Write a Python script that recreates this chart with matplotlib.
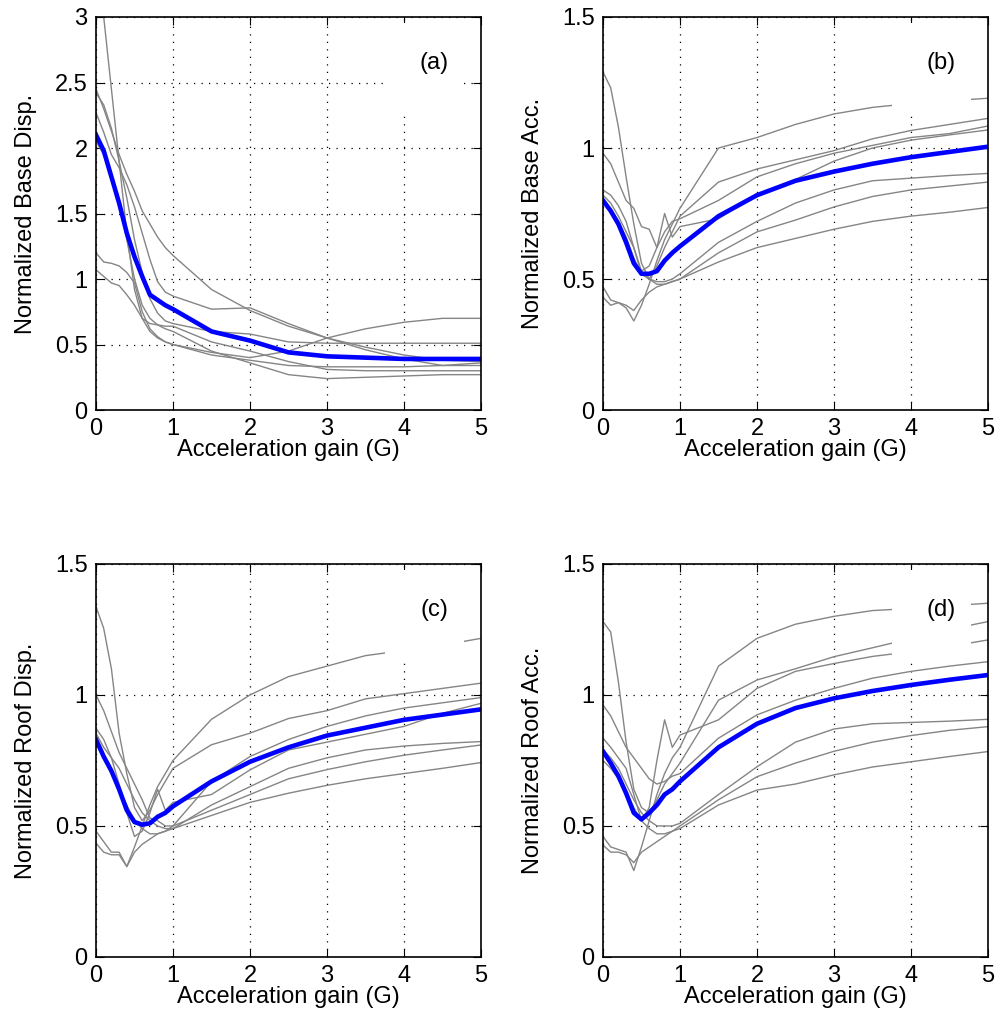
import numpy as np
import matplotlib
matplotlib.use('Agg')
import matplotlib.pyplot as plt
from matplotlib.patches import Rectangle
from matplotlib.ticker import FuncFormatter

plt.rcParams['font.family'] = ['Liberation Sans', 'DejaVu Sans']

# acceleration gain grid (G)
gain = [0, 0.1, 0.2, 0.3, 0.4, 0.5, 0.6, 0.7, 0.8, 0.9, 1.0,
        1.5, 2.0, 2.5, 3.0, 3.5, 4.0, 4.5, 5.0]

# (a) normalized base displacement
base_disp = [
    [3.3, 3.0, 2.45, 1.9, 1.35, 0.92, 0.7, 0.66, 0.65, 0.64, 0.64, 0.52, 0.45, 0.37, 0.31, 0.30, 0.30, 0.30, 0.30],
    [2.45, 2.3, 2.13, 1.95, 1.8, 1.67, 1.52, 1.42, 1.32, 1.24, 1.18, 0.92, 0.76, 0.64, 0.55, 0.46, 0.39, 0.34, 0.36],
    [2.42, 2.33, 2.15, 1.9, 1.62, 1.3, 1.05, 0.85, 0.74, 0.68, 0.66, 0.6, 0.58, 0.52, 0.51, 0.51, 0.51, 0.51, 0.51],
    [2.27, 2.12, 1.95, 1.85, 1.72, 1.55, 1.35, 1.15, 0.98, 0.9, 0.87, 0.77, 0.78, 0.66, 0.55, 0.48, 0.42, 0.38, 0.37],
    [2.05, 1.95, 1.8, 1.6, 1.3, 1.0, 0.8, 0.7, 0.65, 0.62, 0.6, 0.45, 0.36, 0.27, 0.24, 0.25, 0.26, 0.27, 0.27],
    [1.2, 1.13, 1.12, 1.1, 1.05, 0.97, 0.75, 0.62, 0.56, 0.52, 0.5, 0.44, 0.4, 0.45, 0.55, 0.62, 0.67, 0.7, 0.7],
    [1.07, 1.02, 0.97, 0.95, 0.88, 0.8, 0.7, 0.6, 0.55, 0.52, 0.5, 0.42, 0.38, 0.34, 0.33, 0.33, 0.33, 0.34, 0.34],
]
base_disp_mean = [2.1, 1.98, 1.78, 1.58, 1.35, 1.17, 1.02, 0.88, 0.84, 0.8, 0.77, 0.6, 0.53, 0.44, 0.41, 0.40, 0.39, 0.39, 0.39]

# (b) normalized base acceleration
base_acc = [
    [0.43, 0.40, 0.41, 0.39, 0.34, 0.40, 0.48, 0.57, 0.65, 0.71, 0.77, 1.0, 1.04, 1.09, 1.13, 1.155, 1.17, 1.18, 1.19],
    [1.29, 1.23, 1.08, 0.89, 0.71, 0.56, 0.50, 0.55, 0.62, 0.68, 0.74, 0.87, 0.92, 0.955, 0.99, 1.035, 1.067, 1.09, 1.113],
    [0.98, 0.94, 0.87, 0.80, 0.77, 0.70, 0.69, 0.62, 0.68, 0.72, 0.73, 0.80, 0.89, 0.94, 0.98, 1.01, 1.04, 1.055, 1.084],
    [0.84, 0.82, 0.78, 0.72, 0.62, 0.53, 0.55, 0.62, 0.75, 0.66, 0.70, 0.73, 0.82, 0.88, 0.95, 1.0, 1.03, 1.05, 1.069],
    [0.82, 0.79, 0.74, 0.68, 0.62, 0.52, 0.50, 0.49, 0.49, 0.50, 0.52, 0.64, 0.72, 0.79, 0.84, 0.875, 0.885, 0.895, 0.903],
    [0.80, 0.77, 0.72, 0.66, 0.58, 0.52, 0.50, 0.48, 0.48, 0.49, 0.50, 0.60, 0.68, 0.725, 0.775, 0.815, 0.84, 0.855, 0.87],
    [0.47, 0.42, 0.41, 0.40, 0.38, 0.42, 0.45, 0.47, 0.48, 0.49, 0.50, 0.565, 0.62, 0.655, 0.69, 0.72, 0.74, 0.755, 0.773],
]
base_acc_mean = [0.80, 0.76, 0.71, 0.64, 0.56, 0.52, 0.52, 0.53, 0.57, 0.6, 0.625, 0.74, 0.82, 0.875, 0.91, 0.94, 0.965, 0.985, 1.005]

# (c) normalized roof displacement
roof_disp = [
    [0.48, 0.44, 0.40, 0.40, 0.345, 0.42, 0.50, 0.58, 0.65, 0.70, 0.75, 0.907, 1.0, 1.07, 1.11, 1.15, 1.17, 1.19, 1.216],
    [1.337, 1.254, 1.1, 0.854, 0.70, 0.57, 0.52, 0.56, 0.62, 0.67, 0.72, 0.81, 0.854, 0.91, 0.94, 0.985, 1.005, 1.025, 1.045],
    [1.0, 0.94, 0.86, 0.78, 0.72, 0.66, 0.60, 0.53, 0.52, 0.50, 0.50, 0.67, 0.765, 0.83, 0.88, 0.92, 0.95, 0.97, 0.99],
    [0.873, 0.83, 0.76, 0.66, 0.55, 0.46, 0.48, 0.55, 0.64, 0.56, 0.59, 0.62, 0.714, 0.79, 0.82, 0.85, 0.88, 0.93, 0.968],
    [0.854, 0.80, 0.76, 0.72, 0.66, 0.60, 0.55, 0.52, 0.50, 0.49, 0.49, 0.58, 0.65, 0.72, 0.76, 0.79, 0.805, 0.815, 0.822],
    [0.82, 0.76, 0.70, 0.64, 0.58, 0.52, 0.49, 0.47, 0.47, 0.48, 0.50, 0.56, 0.62, 0.68, 0.715, 0.745, 0.77, 0.79, 0.809],
    [0.434, 0.40, 0.39, 0.39, 0.345, 0.40, 0.43, 0.45, 0.47, 0.48, 0.49, 0.54, 0.59, 0.625, 0.655, 0.68, 0.70, 0.72, 0.742],
]
roof_disp_mean = [0.83, 0.765, 0.71, 0.64, 0.56, 0.515, 0.505, 0.51, 0.535, 0.55, 0.575, 0.67, 0.745, 0.80, 0.845, 0.875, 0.905, 0.925, 0.945]

# (d) normalized roof acceleration
roof_acc = [
    [0.46, 0.42, 0.41, 0.40, 0.33, 0.42, 0.52, 0.62, 0.70, 0.76, 0.80, 1.11, 1.216, 1.27, 1.30, 1.322, 1.33, 1.34, 1.35],
    [1.28, 1.24, 1.05, 0.82, 0.64, 0.57, 0.55, 0.60, 0.66, 0.70, 0.74, 0.98, 1.057, 1.10, 1.146, 1.18, 1.215, 1.25, 1.28],
    [0.835, 0.80, 0.76, 0.72, 0.62, 0.52, 0.57, 0.75, 0.905, 0.80, 0.847, 0.905, 1.025, 1.09, 1.12, 1.147, 1.165, 1.185, 1.21],
    [0.962, 0.92, 0.86, 0.80, 0.76, 0.72, 0.68, 0.66, 0.67, 0.69, 0.70, 0.835, 0.924, 0.98, 1.025, 1.064, 1.09, 1.11, 1.127],
    [0.79, 0.76, 0.72, 0.66, 0.60, 0.55, 0.52, 0.50, 0.50, 0.50, 0.51, 0.62, 0.726, 0.82, 0.87, 0.89, 0.895, 0.90, 0.907],
    [0.75, 0.72, 0.68, 0.63, 0.57, 0.52, 0.49, 0.47, 0.47, 0.48, 0.50, 0.60, 0.688, 0.74, 0.785, 0.82, 0.845, 0.865, 0.879],
    [0.427, 0.40, 0.40, 0.39, 0.36, 0.40, 0.42, 0.44, 0.46, 0.48, 0.49, 0.58, 0.637, 0.66, 0.695, 0.725, 0.745, 0.765, 0.784],
]
roof_acc_mean = [0.785, 0.74, 0.69, 0.625, 0.55, 0.525, 0.55, 0.58, 0.62, 0.64, 0.67, 0.80, 0.89, 0.95, 0.987, 1.015, 1.038, 1.058, 1.076]

panels = [
    (base_disp, base_disp_mean, 'Normalized Base Disp.', '(a)', 3.0),
    (base_acc, base_acc_mean, 'Normalized Base Acc.', '(b)', 1.5),
    (roof_disp, roof_disp_mean, 'Normalized Roof Disp.', '(c)', 1.5),
    (roof_acc, roof_acc_mean, 'Normalized Roof Acc.', '(d)', 1.5),
]

fig = plt.figure(figsize=(9.99, 10.30), dpi=100)
lefts = [0.0961, 0.6036]
bottoms = [0.6019, 0.0709]
w, h = 0.3854, 0.3816
fs = 17

for i, (curves, mean, ylab, tag, ymax) in enumerate(panels):
    ax = fig.add_axes([lefts[i % 2], bottoms[i // 2], w, h])
    for c in curves:
        ax.plot(gain, c, color='#858585', lw=1.0, zorder=2)
    ax.plot(gain, mean, color='#0000ff', lw=3.3, zorder=2.1)
    ax.set_xlim(0, 5)
    ax.set_ylim(0, ymax)
    ax.set_xticks(range(6))
    ax.set_yticks(np.arange(0, ymax + 0.01, 0.5))
    ax.yaxis.set_major_formatter(FuncFormatter(lambda v, p: '%g' % v))
    ax.grid(True, color='black', linestyle=(0, (1, 5)), lw=0.9)
    ax.tick_params(direction='in', length=6, width=0.8, top=True, right=True,
                   labelsize=fs, pad=6)
    for s in ax.spines.values():
        s.set_linewidth(1.2)
    ax.set_xlabel('Acceleration gain (G)', fontsize=fs, labelpad=-1)
    ax.set_ylabel(ylab, fontsize=fs, labelpad=13)
    ax.add_patch(Rectangle((0.75, 0.76), 0.205, 0.225, transform=ax.transAxes,
                           facecolor='white', edgecolor='none', zorder=2.3))
    ax.text(0.878, 0.882, tag, transform=ax.transAxes, fontsize=fs,
            ha='center', va='center', zorder=3)

fig.savefig('out.png', dpi=100)
